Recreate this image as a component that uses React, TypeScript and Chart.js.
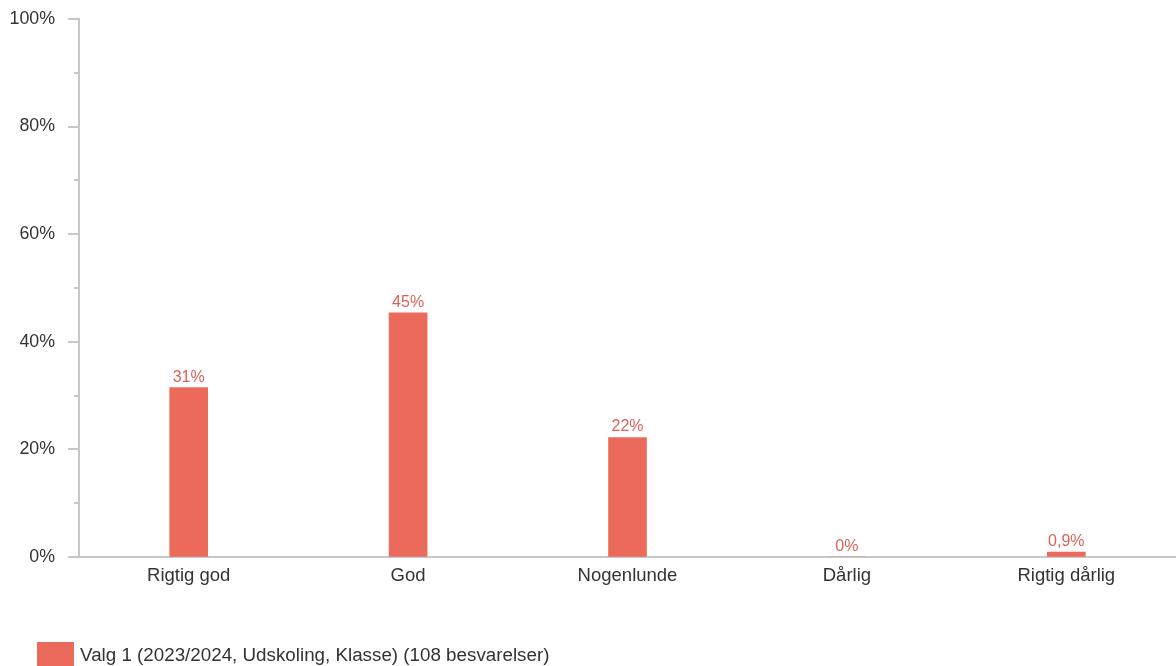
import React, { useEffect, useRef } from "react";
import { Chart, registerables } from "chart.js";

Chart.register(...registerables);

const categories = ["Rigtig god", "God", "Nogenlunde", "Dårlig", "Rigtig dårlig"];
const values = [31.48, 45.37, 22.22, 0, 0.93];
const seriesLabel = "Valg 1 (2023/2024, Udskoling, Klasse) (108 besvarelser)";
const yTicks = [0, 10, 20, 30, 40, 50, 60, 70, 80, 90, 100];

const FONT = "'Liberation Sans', Arial, sans-serif";
const BAR = "#EC6A5C";
const LABEL = "#D9645A";
const AXIS = "#C8C8C8";
const TEXT = "#333333";

function fmt(v: number): string {
  if (v > 0 && v < 1) return v.toFixed(1).replace(".", ",") + "%";
  return Math.round(v) + "%";
}

const overlayPlugin = {
  id: "overlay",
  afterDatasetsDraw(chart: any) {
    const ctx = chart.ctx;
    const meta = chart.getDatasetMeta(0);
    ctx.save();
    ctx.fillStyle = LABEL;
    ctx.font = `16px ${FONT}`;
    ctx.textAlign = "center";
    ctx.textBaseline = "alphabetic";
    meta.data.forEach((bar: any, i: number) => {
      ctx.fillText(fmt(values[i]), bar.x, bar.y - 6);
    });
    ctx.restore();
  },
  afterDraw(chart: any) {
    const ctx = chart.ctx;
    const ys = chart.scales.y;
    const left = chart.chartArea.left;
    ctx.save();
    ctx.strokeStyle = AXIS;
    ctx.lineWidth = 2;
    yTicks.forEach((v) => {
      const y = Math.round(ys.getPixelForValue(v));
      const len = v % 20 === 0 ? 11 : 5;
      ctx.beginPath();
      ctx.moveTo(left - len, y);
      ctx.lineTo(left, y);
      ctx.stroke();
    });
    // legend
    ctx.fillStyle = BAR;
    ctx.fillRect(37, 642, 37, 26);
    ctx.fillStyle = TEXT;
    ctx.font = `18.8px ${FONT}`;
    ctx.textAlign = "left";
    ctx.textBaseline = "middle";
    ctx.fillText(seriesLabel, 80, 656);
    ctx.restore();
  },
};

export default function App() {
  const ref = useRef<HTMLCanvasElement>(null);
  useEffect(() => {
    document.body.style.margin = "0";
    const chart = new Chart(ref.current!, {
      type: "bar",
      data: {
        labels: categories,
        datasets: [
          {
            label: seriesLabel,
            data: values,
            backgroundColor: BAR,
            barThickness: 38,
          },
        ],
      },
      options: {
        animation: false,
        responsive: false,
        layout: { padding: { top: 19, right: 0, bottom: 0, left: 0 } },
        plugins: { legend: { display: false }, tooltip: { enabled: false } },
        scales: {
          x: {
            afterFit: (s: any) => {
              s.height = 109;
            },
            grid: { display: true, drawOnChartArea: false, drawTicks: false },
            border: { display: true, color: AXIS, width: 2 },
            ticks: { color: TEXT, font: { family: FONT, size: 18.5 }, padding: 8 },
          },
          y: {
            min: 0,
            max: 100,
            afterFit: (s: any) => {
              s.width = 79;
            },
            grid: {
              display: true,
              drawOnChartArea: false,
              drawTicks: true,
              tickLength: 16,
              tickColor: "rgba(0,0,0,0)",
            },
            border: { display: true, color: AXIS, width: 2 },
            ticks: {
              stepSize: 10,
              autoSkip: false,
              padding: 8,
              color: TEXT,
              font: { family: FONT, size: 17.8 },
              callback: (v: any) => (Number(v) % 20 === 0 ? v + "%" : ""),
            },
          },
        },
      },
      plugins: [overlayPlugin],
    });
    return () => chart.destroy();
  }, []);
  return (
    <div style={{ width: 1176, height: 666, overflow: "hidden", background: "#fff" }}>
      <canvas ref={ref} width={1176} height={666} />
    </div>
  );
}
